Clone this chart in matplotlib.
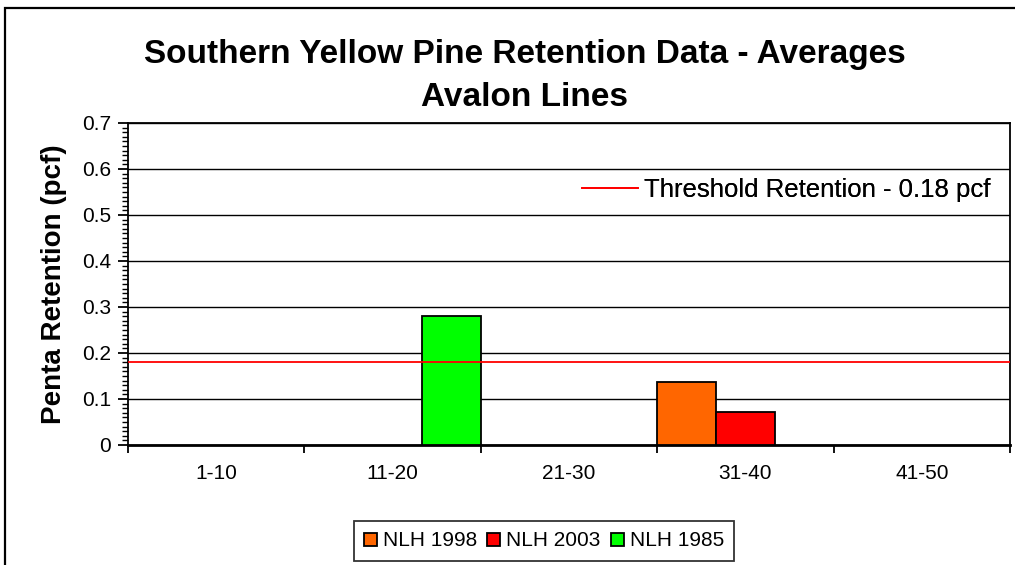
import numpy as np
import matplotlib
matplotlib.use("Agg")
import matplotlib.pyplot as plt
from matplotlib.patches import Rectangle, Patch
from matplotlib.lines import Line2D
from matplotlib.ticker import MultipleLocator, FixedLocator

plt.rcParams['font.family'] = ['Liberation Sans', 'DejaVu Sans']

# data
categories = ['1-10', '11-20', '21-30', '31-40', '41-50']
series_names = ['NLH 1998', 'NLH 2003', 'NLH 1985']
series_colors = ['#FF6600', '#FF0000', '#00FF00']
nlh_1998 = [np.nan, np.nan, np.nan, 0.137, np.nan]
nlh_2003 = [np.nan, np.nan, np.nan, 0.071, np.nan]
nlh_1985 = [np.nan, 0.280, np.nan, np.nan, np.nan]
threshold = 0.18
y_ticks = [0, 0.1, 0.2, 0.3, 0.4, 0.5, 0.6, 0.7]
y_labels = ['0', '0.1', '0.2', '0.3', '0.4', '0.5', '0.6', '0.7']

fig = plt.figure(figsize=(10.15, 5.65), dpi=100)
ax = fig.add_axes([128 / 1015, 120 / 565, 882 / 1015, 322 / 565])

# outer chart border
fig.patches.append(Rectangle((5 / 1015, -0.1), 1.2, 1.0 - 8 / 565 + 0.1,
                             transform=fig.transFigure, fill=False,
                             edgecolor='black', linewidth=1.6))

x = np.arange(len(categories))
width = 1 / 3
for k, (vals, name, col) in enumerate(zip([nlh_1998, nlh_2003, nlh_1985],
                                          series_names, series_colors)):
    ax.bar(x + (k - 1) * width, vals, width, color=col, edgecolor='black',
           linewidth=1.3, label=name, zorder=3)

thr = ax.axhline(threshold, color='#FF0000', linewidth=1.3, zorder=4)

ax.set_xlim(-0.5, len(categories) - 0.5)
ax.set_ylim(0, 0.7)
ax.set_yticks(y_ticks)
ax.set_yticklabels(y_labels)
ax.yaxis.set_minor_locator(MultipleLocator(0.01))
ax.yaxis.grid(True, which='major', color='black', linewidth=1.0, zorder=0)
ax.set_axisbelow(True)

ax.set_xticks(x)
ax.set_xticklabels(categories)
ax.xaxis.set_minor_locator(FixedLocator(np.arange(len(categories) + 1) - 0.5))
ax.tick_params(axis='x', which='major', length=0, pad=14, labelsize=15)
ax.tick_params(axis='x', which='minor', length=6, width=1.3, direction='out')
ax.tick_params(axis='y', which='major', length=7, width=1.3, pad=5, labelsize=15)
ax.tick_params(axis='y', which='minor', length=4, width=1.0)

for s in ax.spines.values():
    s.set_linewidth(1.3)
ax.spines['bottom'].set_linewidth(2.0)

ax.set_ylabel('Penta Retention (pcf)', fontsize=20, fontweight='bold', labelpad=11)

fig.text(0.517, 0.866, 'Southern Yellow Pine Retention Data - Averages\nAvalon Lines',
         ha='center', va='center', fontsize=24, fontweight='bold', linespacing=1.5)

thr_leg = ax.legend([Line2D([], [], color='#FF0000', linewidth=1.3)],
                    ['Threshold Retention - 0.18 pcf'], loc='center right',
                    bbox_to_anchor=(0.989, 0.792), frameon=False, fontsize=18.5,
                    handlelength=2.2, handletextpad=0.2, borderaxespad=0)
ax.add_artist(thr_leg)

handles = [Patch(facecolor=c, edgecolor='black', linewidth=1.3) for c in series_colors]
leg = fig.legend(handles, series_names, loc='center', bbox_to_anchor=(0.536, 0.0425),
                 ncol=3, fontsize=15, frameon=True, fancybox=False,
                 handlelength=0.6, handleheight=0.6, handletextpad=0.3,
                 columnspacing=0.5, borderpad=0.5)
leg.get_frame().set_edgecolor('black')
leg.get_frame().set_linewidth(1.3)

fig.savefig('out.png', dpi=100)
